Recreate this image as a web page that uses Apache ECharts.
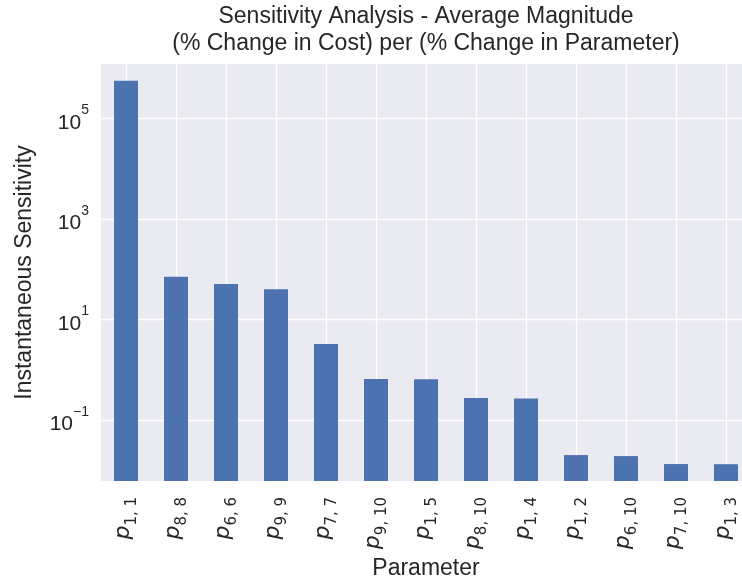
<!DOCTYPE html>
<html>
<head>
<meta charset="utf-8">
<script src="https://cdn.jsdelivr.net/npm/echarts@6/dist/echarts.min.js"></script>
<style>
html,body{margin:0;padding:0;background:#ffffff;}
#chart{width:742px;height:579px;}
</style>
</head>
<body>
<div id="chart"></div>
<script>
// Parameter names: [index-a, index-b] rendered as p_{a,b}
const categories = ['1,1', '8,8', '6,6', '9,9', '7,7', '9,10', '1,5', '8,10', '1,4', '1,2', '6,10', '7,10', '1,3'];
const sensitivity = [560000, 71, 51, 40, 3.26, 0.66, 0.65, 0.275, 0.27, 0.0202, 0.0193, 0.0134, 0.0133];
const yTickValues = [0.1, 10, 1000, 100000];
const titleLines = ['Sensitivity Analysis - Average Magnitude', '(% Change in Cost) per (% Change in Parameter)'];
const yAxisName = 'Instantaneous Sensitivity';
const xAxisName = 'Parameter';

const textColor = '#262626';
const yMin = Math.pow(10, -2.21);
const yMax = Math.pow(10, 6.08);
const barFraction = 0.48;
const chart = echarts.init(document.getElementById('chart'), null, {renderer: 'canvas'});

const option = {
  backgroundColor: '#ffffff',
  animation: false,
  title: {
    text: titleLines.join('\n'),
    left: 426,
    top: 3,
    textAlign: 'center',
    padding: 0,
    textStyle: {
      fontFamily: 'Liberation Sans',
      fontSize: 23,
      fontWeight: 'normal',
      color: textColor,
      lineHeight: 27
    }
  },
  grid: {
    left: 101,
    right: -9,
    top: 64,
    bottom: 98,
    outerBoundsMode: 'none',
    containLabel: false,
    show: true,
    backgroundColor: '#EAEAF2',
    borderWidth: 0
  },
  xAxis: {
    type: 'category',
    data: categories,
    boundaryGap: true,
    name: xAxisName,
    nameLocation: 'middle',
    nameGap: 67,
    nameTextStyle: {fontFamily: 'Liberation Sans', fontSize: 23, color: textColor},
    axisLine: {show: false},
    axisTick: {show: false, alignWithLabel: true},
    splitLine: {show: true, alignWithLabel: true, lineStyle: {color: '#ffffff', width: 1.3}},
    axisLabel: {
      rotate: 90,
      margin: 16,
      interval: 0,
      formatter: function (v) { return '{p|p}{s|' + v.replace(',', ', ') + '}'; },
      rich: {
        p: {fontFamily: 'DejaVu Sans', fontStyle: 'italic', fontSize: 22, color: textColor, lineHeight: 27, verticalAlign: 'top'},
        s: {fontFamily: 'DejaVu Sans', fontSize: 15, color: textColor, lineHeight: 18, verticalAlign: 'bottom'}
      }
    }
  },
  yAxis: {
    type: 'log',
    logBase: 10,
    min: yMin,
    max: yMax,
    name: yAxisName,
    nameLocation: 'middle',
    nameGap: 65,
    nameTextStyle: {fontFamily: 'Liberation Sans', fontSize: 23, color: textColor},
    axisLine: {show: false},
    axisTick: {show: false, customValues: yTickValues},
    splitLine: {show: true, lineStyle: {color: '#ffffff', width: 1.3}},
    axisLabel: {
      customValues: yTickValues,
      margin: 12,
      formatter: function (v) {
        const e = Math.round(Math.log10(v));
        return '{b|10}{s|' + (e < 0 ? '\u2212' + (-e) : e) + '}';
      },
      rich: {
        b: {fontFamily: 'Liberation Sans', fontSize: 21, color: textColor, lineHeight: 30, verticalAlign: 'bottom'},
        s: {fontFamily: 'Liberation Sans', fontSize: 14, color: textColor, lineHeight: 14, verticalAlign: 'top'}
      }
    }
  },
  series: [{
    type: 'custom',
    data: sensitivity.map(function (v, i) { return [i, v]; }),
    encode: {x: 0, y: 1},
    renderItem: function (params, api) {
      const top = api.coord([api.value(0), api.value(1)]);
      const base = api.coord([api.value(0), yMin]);
      const w = api.size([1, 0])[0] * barFraction;
      return {
        type: 'rect',
        shape: {x: top[0] - w / 2, y: top[1], width: w, height: base[1] - top[1]},
        style: {fill: '#4C72B0'}
      };
    }
  }]
};
chart.setOption(option);
</script>
</body>
</html>
